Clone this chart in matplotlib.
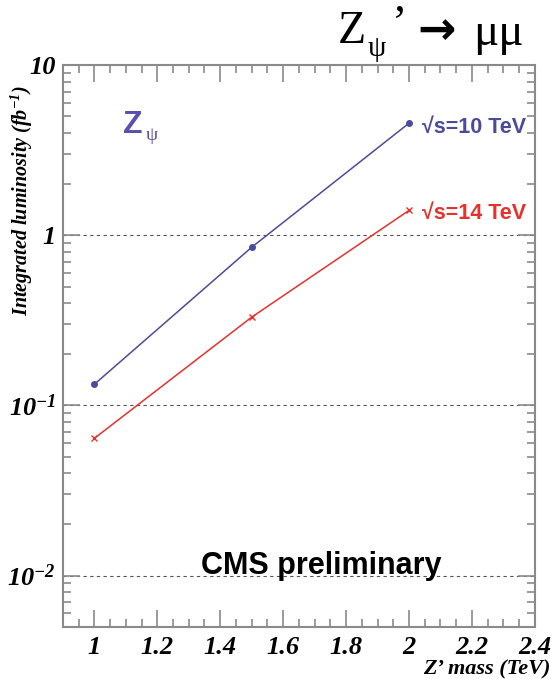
import numpy as np
import matplotlib
matplotlib.use('Agg')
import matplotlib.pyplot as plt
from matplotlib.ticker import FixedLocator, FixedFormatter, MultipleLocator, LogLocator, NullFormatter

# data
mass = [1.0, 1.5, 2.0]
lumi_10tev = [0.133, 0.85, 4.56]
lumi_14tev = [0.064, 0.33, 1.40]
x_ticks = [1, 1.2, 1.4, 1.6, 1.8, 2, 2.2, 2.4]
x_ticklabels = ['1', '1.2', '1.4', '1.6', '1.8', '2', '2.2', '2.4']
y_ticks = [0.01, 0.1, 1, 10]
y_ticklabels = [r'10$^{\mathregular{-2}}$', r'10$^{\mathregular{-1}}$', '1', '10']

BLUE = '#4b4b9b'
RED = '#e8302c'
GREY = '#8a8a8a'
serif = 'Liberation Serif'
sans = ['Liberation Sans', 'DejaVu Sans']

plt.rcParams['mathtext.fontset'] = 'custom'
plt.rcParams['mathtext.rm'] = serif
plt.rcParams['mathtext.it'] = serif + ':italic'
plt.rcParams['mathtext.bf'] = serif + ':bold:italic'

fig = plt.figure(figsize=(5.56, 6.79), dpi=100)
ax = fig.add_axes([0.113, 0.077, 0.849, 0.827])

ax.plot(mass, lumi_10tev, '-', color=BLUE, lw=1.1, marker='o', ms=4)
ax.plot(mass, lumi_14tev, '-', color=RED, lw=1.1, marker='x', ms=4, mew=1.0)

ax.set_yscale('log')
ax.set_xlim(0.9, 2.4)
ax.set_ylim(0.005, 10)

for yv in [0.01, 0.1, 1]:
    ax.axhline(yv, color='#555555', lw=0.8, ls=(0, (3, 3)), zorder=0)

ax.xaxis.set_major_locator(FixedLocator(x_ticks))
ax.xaxis.set_major_formatter(FixedFormatter(x_ticklabels))
ax.xaxis.set_minor_locator(MultipleLocator(0.05))
ax.yaxis.set_major_locator(FixedLocator(y_ticks))
ax.yaxis.set_major_formatter(FixedFormatter(y_ticklabels))
ax.yaxis.set_minor_locator(LogLocator(base=10, subs=np.arange(2, 10)))
ax.yaxis.set_minor_formatter(NullFormatter())

ax.tick_params(which='both', direction='in', top=True, right=True, color=GREY, width=1.2)
ax.tick_params(which='major', length=12)
ax.tick_params(which='minor', length=6)
ax.tick_params(axis='x', which='major', pad=7)
ax.tick_params(axis='y', which='major', pad=5)
for lab in ax.get_xticklabels() + ax.get_yticklabels():
    lab.set_fontfamily(serif)
    lab.set_fontstyle('italic')
    lab.set_fontweight('bold')
    lab.set_fontsize(19)
for sp in ax.spines.values():
    sp.set_color(GREY)
    sp.set_linewidth(1.5)

fig.text(0.04, 0.705, r'Integrated luminosity (fb$^{\mathregular{-1}}$)', rotation=90,
         ha='center', va='center', family=serif, style='italic', weight='bold', fontsize=14.5)
fig.text(0.99, 0.0, "Z’ mass (TeV)", ha='right', va='bottom',
         family=serif, style='italic', weight='bold', fontsize=16)

ax.text(0.127, 0.879, 'Z', transform=ax.transAxes, color='#5a50b0',
        fontsize=23, weight='bold', family=sans, ha='left', va='baseline')
ax.text(0.176, 0.866, 'ψ', transform=ax.transAxes, color='#5a50b0',
        fontsize=14, family=serif, ha='left', va='baseline')
ax.text(2.041, 4.32, '√s=10 TeV', color=BLUE, fontsize=15.5, weight='bold',
        family=sans, ha='left', va='center')
ax.text(2.041, 1.35, '√s=14 TeV', color=RED, fontsize=15.5, weight='bold',
        family=sans, ha='left', va='center')
ax.text(1.72, 0.0113, 'CMS preliminary', color='black', fontsize=22, weight='bold',
        family=sans, ha='center', va='center')

fig.text(0.608, 0.9367, 'Z', family=serif, fontsize=33, ha='left', va='baseline')
fig.text(0.662, 0.917, 'ψ', family=serif, fontsize=21, ha='left', va='baseline')
fig.text(0.705, 0.945, '’', family=serif, fontsize=33, ha='left', va='baseline')
fig.text(0.75, 0.953, '→', family='DejaVu Sans', weight='bold', fontsize=33, ha='left', va='center')
fig.text(0.851, 0.934, 'μμ', family=serif, fontsize=34, ha='left', va='baseline')

fig.savefig('out.png', dpi=100)
